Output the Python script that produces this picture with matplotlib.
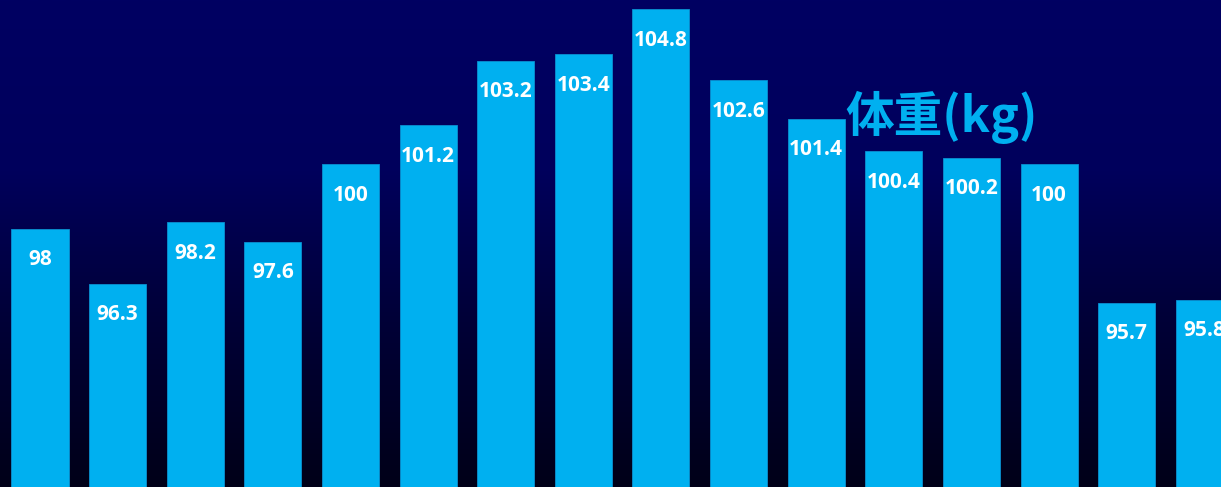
import matplotlib.pyplot as plt
import numpy as np
from matplotlib.colors import LinearSegmentedColormap

plt.rcParams['font.family'] = ['Noto Sans CJK JP', 'DejaVu Sans']

# data
weights = [98, 96.3, 98.2, 97.6, 100, 101.2, 103.2, 103.4, 104.8,
           102.6, 101.4, 100.4, 100.2, 100, 95.7, 95.8]
labels = ['98', '96.3', '98.2', '97.6', '100', '101.2', '103.2', '103.4', '104.8',
          '102.6', '101.4', '100.4', '100.2', '100', '95.7', '95.8']
title = '体重(kg)'

fig = plt.figure(figsize=(12.21, 4.87), dpi=100)
ax = fig.add_axes([0, 0, 1, 1])

x = np.arange(len(weights))
xlim = (-0.515, 15.215)
ylim = (90, 105.08)

# background gradient: navy at top, near black at bottom
bg = LinearSegmentedColormap.from_list(
    'bg', [(0.0, '#000018'), (0.35, '#000038'), (0.65, '#00005c'), (1.0, '#000062')])
grad = np.linspace(0, 1, 256).reshape(-1, 1)
ax.imshow(grad, cmap=bg, origin='lower', aspect='auto',
          extent=[xlim[0], xlim[1], ylim[0], ylim[1]], zorder=0)

ax.bar(x, weights, width=0.735, color='#00b0f0', edgecolor='#0a8fd0',
       linewidth=0.6, zorder=2)

for xi, w, lab in zip(x, weights, labels):
    ax.annotate(lab, (xi, w), xytext=(0, -31), textcoords='offset pixels',
                ha='center', va='center', color='white', fontsize=15,
                fontweight='bold', family=['Open Sans', 'DejaVu Sans'], zorder=3)

ax.text(0.771, 0.758, title, transform=ax.transAxes, ha='center', va='center',
        color='#00b0f0', fontsize=35, fontweight='bold', zorder=3)

ax.set_xlim(*xlim)
ax.set_ylim(*ylim)
ax.axis('off')

fig.savefig('out.png', dpi=100)
